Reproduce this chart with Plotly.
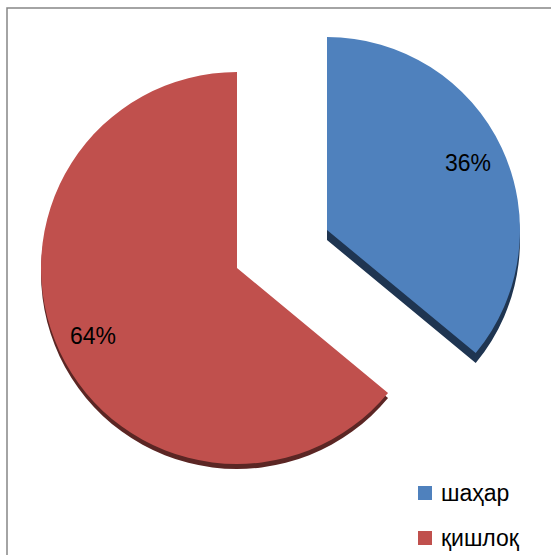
import math
import plotly.graph_objects as go

# Chart data
labels = ["шаҳар", "қишлоқ"]
values = [36, 64]
colors = ["#4F81BD", "#C0504D"]
edge_colors = ["#1F3551", "#5B2624"]

W, H = 551, 555
FONT = "Liberation Sans"
CLEAR = "rgba(0,0,0,0)"


def px_x(x):
    return x / W


def px_y(y):
    return (H - y) / H


def domain(cx, cy, r):
    return dict(x=[px_x(cx - r), px_x(cx + r)], y=[px_y(cy + r), px_y(cy - r)])


# Placement of each (exploded) slice: centre in pixels, radius, visible edge depth
slice_geom = [
    dict(cx=327, cy=230, r=193, depth=10),
    dict(cx=237, cy=268, r=196, depth=5),
]
LABEL_RADIUS = 0.81

fig = go.Figure()

# Dark side of each slice, drawn first so the face covers it
for i, g in enumerate(slice_geom):
    fig.add_trace(go.Pie(
        labels=labels, values=values, sort=False, direction="clockwise", rotation=0,
        marker=dict(colors=[edge_colors[j] if j == i else CLEAR for j in range(len(values))],
                    line=dict(width=0)),
        textinfo="none", hoverinfo="skip", showlegend=False,
        domain=domain(g["cx"], g["cy"] + g["depth"], g["r"]),
    ))

# Slice faces
for i, g in enumerate(slice_geom):
    fig.add_trace(go.Pie(
        labels=labels, values=values, sort=False, direction="clockwise", rotation=0,
        marker=dict(colors=[colors[j] if j == i else CLEAR for j in range(len(values))],
                    line=dict(width=0)),
        textinfo="none", hoverinfo="label+percent", showlegend=False,
        domain=domain(g["cx"], g["cy"], g["r"]),
    ))

annotations = []

# Percentage labels placed along each slice's middle angle
total = sum(values)
start = 0.0
for v, g in zip(values, slice_geom):
    span = 360.0 * v / total
    mid = math.radians(start + span / 2)
    start += span
    lx = g["cx"] + LABEL_RADIUS * g["r"] * math.sin(mid)
    ly = g["cy"] - LABEL_RADIUS * g["r"] * math.cos(mid)
    annotations.append(dict(text=f"{round(100 * v / total)}%", xref="paper", yref="paper",
                            x=px_x(lx), y=px_y(ly), xanchor="center", yanchor="middle",
                            showarrow=False, font=dict(family=FONT, size=23, color="black")))

# Chart frame
shapes = [dict(type="path", xref="paper", yref="paper",
               path=f"M {px_x(7)},{px_y(H + 5)} L {px_x(7)},{px_y(8)} L {px_x(W + 5)},{px_y(8)}",
               line=dict(color="#868686", width=1.5))]

# Legend: colour swatch and label for each category
legend_y = [493, 538]
for lab, col, ly in zip(labels, colors, legend_y):
    shapes.append(dict(type="rect", xref="paper", yref="paper",
                       x0=px_x(418), x1=px_x(432), y0=px_y(ly + 7), y1=px_y(ly - 7),
                       fillcolor=col, line=dict(width=0)))
    annotations.append(dict(text=lab, xref="paper", yref="paper", x=px_x(439), y=px_y(ly),
                            xanchor="left", yanchor="middle", showarrow=False,
                            font=dict(family=FONT, size=23, color="black")))

fig.update_layout(
    width=W, height=H,
    margin=dict(l=0, r=0, t=0, b=0),
    paper_bgcolor="white", plot_bgcolor="white",
    showlegend=False,
    shapes=shapes, annotations=annotations,
)

fig.write_html("out.html")
